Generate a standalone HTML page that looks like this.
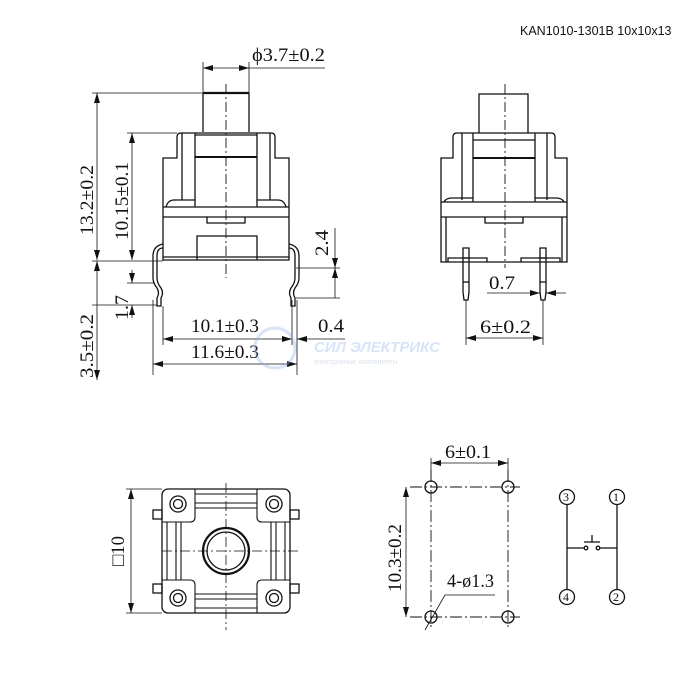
<!DOCTYPE html>
<html><head><meta charset="utf-8"><style>
html,body{margin:0;padding:0;background:#fff;}
svg{display:block;}
text{font-family:"Liberation Sans",sans-serif;fill:#111;}
text.d,text.n{font-family:"Liberation Serif",serif;}
.d{font-size:19px;}
</style></head><body>
<svg width="699" height="699" viewBox="0 0 699 699" xmlns="http://www.w3.org/2000/svg">
<defs>
<marker id="a" viewBox="0 0 10 6" refX="10" refY="3" markerWidth="10" markerHeight="6" orient="auto-start-reverse" markerUnits="userSpaceOnUse"><path d="M0,0L10,3L0,6z" fill="#111"/></marker>
</defs>
<text x="520" y="35" font-size="12.5">KAN1010-1301B 10x10x13</text>

<g fill="none" stroke="#111" stroke-width="1.3">
<!-- FRONT VIEW -->
<path d="M203,132V93H249V132"/>
<line x1="203" y1="93" x2="249" y2="93" stroke-width="2.2"/>
<path d="M163,260V158H177V137Q177,133 181,133H271Q275,133 275,137V158H289V260Z"/>
<line x1="182" y1="133" x2="182" y2="200"/><line x1="195" y1="133" x2="195" y2="207"/>
<line x1="257" y1="133" x2="257" y2="207"/><line x1="270" y1="133" x2="270" y2="200"/>
<line x1="195" y1="157" x2="257" y2="157" stroke-width="2"/>
<line x1="195" y1="135" x2="257" y2="135"/>
<path d="M166,207Q168,200 174,200H195M286,207Q284,200 278,200H257"/>
<line x1="163" y1="207" x2="289" y2="207"/>
<line x1="163" y1="217" x2="289" y2="217"/>
<path d="M207,217V223H245V217"/>
<path d="M197,260V236H257V260"/>
<line x1="163" y1="257" x2="289" y2="257"/>
<path d="M163,248Q157,248 157,256V278Q157,283 161,288Q164,293 161,298V306H157V298Q160,293 157,288Q153,283 153,278V256Q153,246 163,244"/>
<path d="M289,248Q295,248 295,256V278Q295,283 291,288Q288,293 291,298V306H295V298Q292,293 295,288Q299,283 299,278V256Q299,246 289,244"/>
<line x1="226" y1="84" x2="226" y2="278" stroke-width="0.9" stroke-dasharray="10,3,2,3"/>
<line x1="203" y1="62" x2="203" y2="92" stroke-width="0.8"/><line x1="249" y1="62" x2="249" y2="92" stroke-width="0.8"/>
<line x1="203" y1="68" x2="249" y2="68" stroke-width="0.8" marker-start="url(#a)" marker-end="url(#a)"/>
<line x1="249" y1="68" x2="325" y2="68" stroke-width="0.8"/>
<line x1="92" y1="93" x2="203" y2="93" stroke-width="0.8"/>
<line x1="97" y1="93" x2="97" y2="260" stroke-width="0.8" marker-start="url(#a)" marker-end="url(#a)"/>
<line x1="127" y1="133" x2="177" y2="133" stroke-width="0.8"/>
<line x1="132" y1="133" x2="132" y2="260" stroke-width="0.8" marker-start="url(#a)" marker-end="url(#a)"/>
<line x1="92" y1="261" x2="163" y2="261" stroke-width="0.8"/>
<line x1="127" y1="283" x2="155" y2="283" stroke-width="0.8"/>
<line x1="92" y1="305" x2="157" y2="305" stroke-width="0.8"/>
<line x1="132" y1="270" x2="132" y2="283" stroke-width="0.8" marker-end="url(#a)"/>
<line x1="132" y1="318" x2="132" y2="305" stroke-width="0.8" marker-end="url(#a)"/>
<line x1="97" y1="261" x2="97" y2="380" stroke-width="0.8" marker-start="url(#a)" marker-end="url(#a)"/>
<line x1="296" y1="268" x2="340" y2="268" stroke-width="0.8"/>
<line x1="296" y1="298" x2="340" y2="298" stroke-width="0.8"/>
<line x1="335" y1="228" x2="335" y2="268" stroke-width="0.8" marker-end="url(#a)"/>
<line x1="335" y1="298" x2="335" y2="268" stroke-width="0.8" marker-end="url(#a)"/>
<line x1="163" y1="306" x2="163" y2="345" stroke-width="0.8"/>
<line x1="292" y1="300" x2="292" y2="345" stroke-width="0.8"/>
<line x1="297" y1="300" x2="297" y2="375" stroke-width="0.8"/>
<line x1="153" y1="300" x2="153" y2="375" stroke-width="0.8"/>
<line x1="163" y1="339" x2="292" y2="339" stroke-width="0.8" marker-start="url(#a)" marker-end="url(#a)"/>
<line x1="345" y1="339" x2="297" y2="339" stroke-width="0.8" marker-end="url(#a)"/>
<line x1="153" y1="364" x2="297" y2="364" stroke-width="0.8" marker-start="url(#a)" marker-end="url(#a)"/>

<!-- SIDE VIEW -->
<path d="M479,133V94H528V133"/>
<path d="M441,262V158H453V137Q453,133 457,133H551Q555,133 555,137V158H567V262Z"/>
<line x1="462" y1="133" x2="462" y2="200"/><line x1="473" y1="133" x2="473" y2="202"/>
<line x1="535" y1="133" x2="535" y2="202"/><line x1="547" y1="133" x2="547" y2="200"/>
<line x1="473" y1="140" x2="535" y2="140"/>
<line x1="473" y1="158" x2="535" y2="158" stroke-width="2"/>
<path d="M444,202Q446,198 452,198H473M564,202Q562,198 556,198H535"/>
<line x1="441" y1="202" x2="567" y2="202"/>
<line x1="441" y1="217" x2="567" y2="217"/>
<path d="M485,217V223H523V217"/>
<line x1="446" y1="217" x2="446" y2="262"/><line x1="562" y1="217" x2="562" y2="262"/>
<path d="M448,262V258H487V262M521,262V258H560V262"/>
<path d="M463,248H469V292L468,300H464L463,292Z"/>
<line x1="463" y1="258" x2="469" y2="258"/><line x1="463" y1="282" x2="469" y2="282"/>
<path d="M540,248H546V292L545,300H541L540,292Z"/>
<line x1="540" y1="258" x2="546" y2="258"/><line x1="540" y1="282" x2="546" y2="282"/>
<line x1="505" y1="84" x2="505" y2="268" stroke-width="0.9" stroke-dasharray="10,3,2,3"/>
<line x1="487" y1="293" x2="540" y2="293" stroke-width="0.8" marker-end="url(#a)"/>
<line x1="566" y1="293" x2="546" y2="293" stroke-width="0.8" marker-end="url(#a)"/>
<line x1="466" y1="300" x2="466" y2="345" stroke-width="0.8"/><line x1="543" y1="300" x2="543" y2="345" stroke-width="0.8"/>
<line x1="466" y1="338" x2="543" y2="338" stroke-width="0.8" marker-start="url(#a)" marker-end="url(#a)"/>

<!-- BOTTOM VIEW -->
<rect x="162" y="489" width="128" height="124" rx="6"/>
<g stroke-width="1.1">
<path d="M162,522H190Q195,522 195,517V489"/><path d="M290,522H262Q257,522 257,517V489"/>
<path d="M162,580H190Q195,580 195,585V613"/><path d="M290,580H262Q257,580 257,585V613"/>
<line x1="195" y1="494" x2="257" y2="494"/><line x1="195" y1="503" x2="257" y2="503"/><line x1="195" y1="508" x2="257" y2="508"/>
<line x1="195" y1="594" x2="257" y2="594"/><line x1="195" y1="599" x2="257" y2="599"/><line x1="195" y1="608" x2="257" y2="608"/>
<line x1="167" y1="522" x2="167" y2="580"/><line x1="176" y1="522" x2="176" y2="580"/><line x1="181" y1="522" x2="181" y2="580"/>
<line x1="285" y1="522" x2="285" y2="580"/><line x1="276" y1="522" x2="276" y2="580"/><line x1="271" y1="522" x2="271" y2="580"/>
</g>
<circle cx="178" cy="504" r="8"/><circle cx="178" cy="504" r="4.5"/>
<circle cx="274" cy="504" r="8"/><circle cx="274" cy="504" r="4.5"/>
<circle cx="178" cy="598" r="8"/><circle cx="178" cy="598" r="4.5"/>
<circle cx="274" cy="598" r="8"/><circle cx="274" cy="598" r="4.5"/>
<circle cx="226" cy="551" r="23" stroke-width="2.2"/><circle cx="226" cy="551" r="19"/>
<rect x="153" y="510" width="9" height="9"/><rect x="290" y="510" width="9" height="9"/>
<rect x="153" y="584" width="9" height="9"/><rect x="290" y="584" width="9" height="9"/>
<line x1="226" y1="483" x2="226" y2="630" stroke-width="0.8" stroke-dasharray="10,3,2,3"/>
<line x1="162" y1="551" x2="300" y2="551" stroke-width="0.8" stroke-dasharray="10,3,2,3"/>
<line x1="126" y1="489" x2="162" y2="489" stroke-width="0.8"/><line x1="126" y1="613" x2="162" y2="613" stroke-width="0.8"/>
<line x1="131" y1="489" x2="131" y2="613" stroke-width="0.8" marker-start="url(#a)" marker-end="url(#a)"/>

<!-- FOOTPRINT -->
<g stroke-width="0.9" stroke-dasharray="12,3,2,3">
<line x1="410" y1="487" x2="520" y2="487"/><line x1="410" y1="617" x2="520" y2="617"/>
<line x1="431" y1="470" x2="431" y2="630"/><line x1="508" y1="470" x2="508" y2="630"/>
</g>
<circle cx="431" cy="487" r="6"/><circle cx="508" cy="487" r="6"/>
<circle cx="431" cy="617" r="6"/><circle cx="508" cy="617" r="6"/>
<line x1="431" y1="458" x2="431" y2="480" stroke-width="0.8"/><line x1="508" y1="458" x2="508" y2="480" stroke-width="0.8"/>
<line x1="431" y1="463" x2="508" y2="463" stroke-width="0.8" marker-start="url(#a)" marker-end="url(#a)"/>
<line x1="406" y1="487" x2="406" y2="617" stroke-width="0.8" marker-start="url(#a)" marker-end="url(#a)"/>
<path d="M425,630L445,595H495" stroke-width="0.8"/>

<!-- SCHEMATIC -->
<circle cx="567" cy="497" r="7.5"/><circle cx="617" cy="497" r="7.5"/>
<circle cx="567" cy="597" r="7.5"/><circle cx="617" cy="597" r="7.5"/>
<line x1="567" y1="505" x2="567" y2="589"/><line x1="617" y1="505" x2="617" y2="589"/>
<line x1="567" y1="548" x2="584" y2="548"/><line x1="600" y1="548" x2="617" y2="548"/>
<circle cx="586" cy="548" r="1.8"/><circle cx="598" cy="548" r="1.8"/>
<path d="M584,542H600M592,542V535"/>
</g>

<text class="d" x="252" y="61" textLength="73" lengthAdjust="spacingAndGlyphs">ϕ3.7±0.2</text>
<text class="d" transform="translate(93,235) rotate(-90)" textLength="70" lengthAdjust="spacingAndGlyphs">13.2±0.2</text>
<text class="d" transform="translate(128,240) rotate(-90)" textLength="78" lengthAdjust="spacingAndGlyphs">10.15±0.1</text>
<text class="d" transform="translate(128,320) rotate(-90)" textLength="25" lengthAdjust="spacingAndGlyphs">1.7</text>
<text class="d" transform="translate(93,378) rotate(-90)" textLength="64" lengthAdjust="spacingAndGlyphs">3.5±0.2</text>
<text class="d" transform="translate(328,256) rotate(-90)" textLength="26" lengthAdjust="spacingAndGlyphs">2.4</text>
<text class="d" x="191" y="332" textLength="68" lengthAdjust="spacingAndGlyphs">10.1±0.3</text>
<text class="d" x="318" y="332" textLength="26" lengthAdjust="spacingAndGlyphs">0.4</text>
<text class="d" x="191" y="358" textLength="68" lengthAdjust="spacingAndGlyphs">11.6±0.3</text>
<text class="d" x="489" y="289" textLength="26" lengthAdjust="spacingAndGlyphs">0.7</text>
<text class="d" x="480" y="333" textLength="51" lengthAdjust="spacingAndGlyphs">6±0.2</text>
<text class="d" transform="translate(124,566) rotate(-90)" textLength="30" lengthAdjust="spacingAndGlyphs">□10</text>
<text class="d" x="445" y="458" textLength="46" lengthAdjust="spacingAndGlyphs">6±0.1</text>
<text class="d" transform="translate(401,592) rotate(-90)" textLength="68" lengthAdjust="spacingAndGlyphs">10.3±0.2</text>
<text class="d" x="447" y="587" textLength="47" lengthAdjust="spacingAndGlyphs">4-ø1.3</text>
<text class="n" x="563" y="501" font-size="12">3</text><text class="n" x="613" y="501" font-size="12">1</text>
<text class="n" x="563" y="601" font-size="12">4</text><text class="n" x="613" y="601" font-size="12">2</text>

<g opacity="0.35">
<circle cx="275" cy="348" r="20" fill="none" stroke="#8fb0e8" stroke-width="3"/>
<text x="314" y="352" font-size="15" font-weight="bold" style="fill:#8fb0e8;font-style:italic">СИЛ ЭЛЕКТРИКС</text>
<text x="314" y="364" font-size="7" style="fill:#9ab">электронные компоненты</text>
</g>
</svg>
</body></html>
